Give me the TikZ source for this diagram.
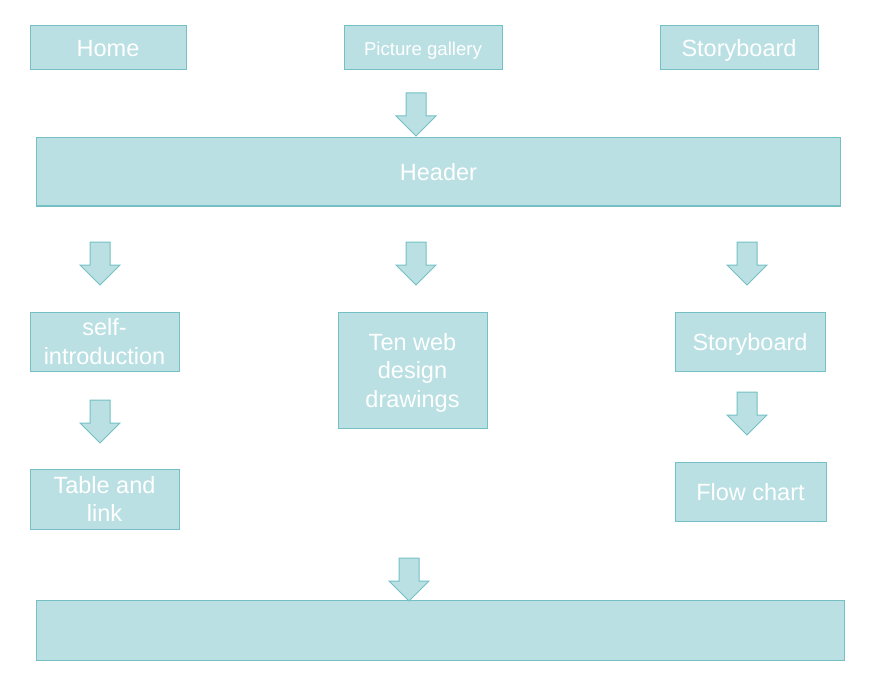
\documentclass[tikz,border=0pt]{standalone}
\usepackage{fontspec}
\setmainfont{Liberation Sans}
\definecolor{boxfill}{HTML}{BAE0E3}
\definecolor{boxline}{HTML}{74C0C4}
\begin{document}
\begin{tikzpicture}[x=1pt,y=-1pt,
  box/.style={draw=boxline,fill=boxfill,line width=1pt,inner sep=0pt,text depth=0pt,
    text=white,align=center,font=\fontsize{23.5}{28.5}\selectfont},
  pics/downarrow/.style={code={
    \draw[draw=boxline,fill=boxfill,line width=1pt,line join=miter]
      (-10,0) -- (10,0) -- (10,23) -- (20,23) -- (0,43) -- (-20,23) -- (-10,23) -- cycle;}}]
\useasboundingbox (0,0) rectangle (876,682);
% top row
\node[box,minimum width=156pt,minimum height=44pt] (home) at (108,48) {Home};
\node[box,minimum width=158pt,minimum height=44pt,font=\fontsize{18.6}{22}\selectfont] (gallery) at (423,48) {\raisebox{-2pt}{Picture gallery}};
\node[box,minimum width=158pt,minimum height=44pt] (story1) at (739,48) {Storyboard};
% header
\node[box,minimum width=804pt,minimum height=68pt] (header) at (438.5,172) {Header};
% middle
\node[box,minimum width=149pt,minimum height=59pt] (self) at (104.5,341.5) {self-\\introduction};
\node[box,minimum width=149pt,minimum height=116pt] (ten) at (412.5,370) {Ten web\\design\\drawings};
\node[box,minimum width=150pt,minimum height=59pt] (story2) at (750,341.5) {Storyboard};
\node[box,minimum width=149pt,minimum height=60pt] (table) at (104.5,499) {Table and\\link};
\node[box,minimum width=151pt,minimum height=59pt] (flow) at (750.5,491.5) {Flow chart};
% footer
\node[box,minimum width=808pt,minimum height=60pt] (footer) at (440,630) {};
% block arrows
\pic at (416,93) {downarrow};
\pic at (100,242) {downarrow};
\pic at (416,242) {downarrow};
\pic at (747,242) {downarrow};
\pic at (100,400) {downarrow};
\pic at (747,392) {downarrow};
\pic at (409,558) {downarrow};
\end{tikzpicture}
\end{document}
